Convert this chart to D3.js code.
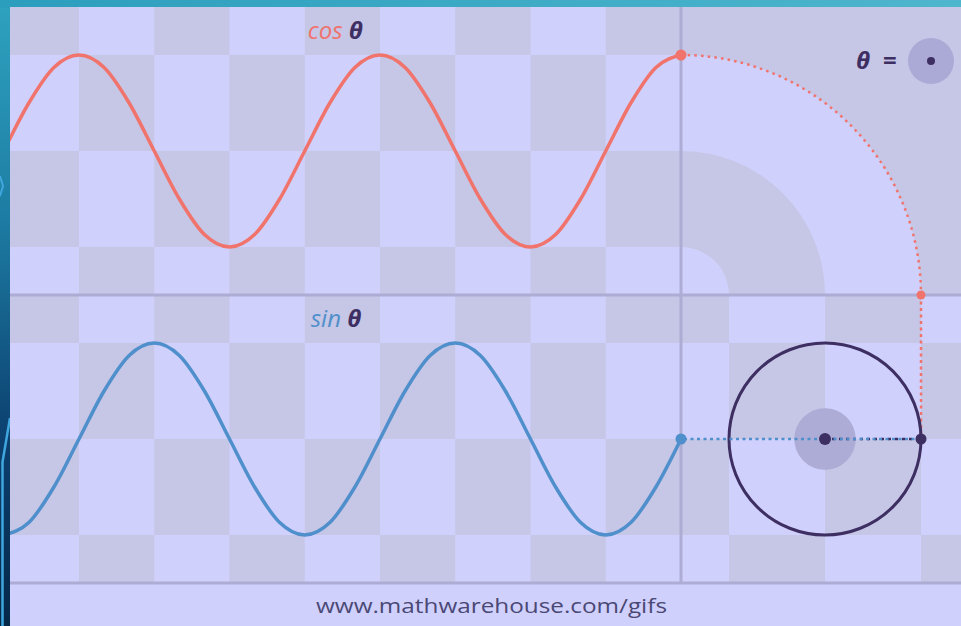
<!DOCTYPE html>
<html><head><meta charset="utf-8">
<script src="https://cdn.jsdelivr.net/npm/d3@7"></script>
<style>html,body{margin:0;padding:0;overflow:hidden;background:#1b6c93}svg{display:block}</style>
</head><body><svg id="c" width="961" height="626"></svg>
<script>
// ---- data (angle history in degrees, current angle = 0) ----
const thetaDeg = [-810,-780,-750,-720,-690,-660,-630,-600,-570,-540,-510,-480,-450,-420,-390,-360,-330,-300,-270,-240,-210,-180,-150,-120,-90,-60,-30,0];
const cosValues = [0,0.5,0.87,1,0.87,0.5,0,-0.5,-0.87,-1,-0.87,-0.5,0,0.5,0.87,1,0.87,0.5,0,-0.5,-0.87,-1,-0.87,-0.5,0,0.5,0.87,1];
const sinValues = [-1,-0.87,-0.5,0,0.5,0.87,1,0.87,0.5,0,-0.5,-0.87,-1,-0.87,-0.5,0,0.5,0.87,1,0.87,0.5,0,-0.5,-0.87,-1,-0.87,-0.5,0];
// background grid bands
const colTicks = [-810,-720,-630,-540,-450,-360,-270,-180,-90,0];
const rowVals = [1.5,1,0,-1,-1.5];
const circCols = [-1.5,-1,0,1,2];
const ringRadii = [2.5,1.5,0.5];
// texts
const cosLabel = "cos", sinLabel = "sin", thetaSym = "θ", eqSym = "=";
const footerText = "www.mathwarehouse.com/gifs";

// ---- styles ----
const LIGHT = "#d0d0fc", DARK = "#c6c6e6", AXIS = "#acacd4";
const RED = "#f0736c", BLUE = "#4f8fcb", INK = "#3e2f63";

const W = 961, H = 626;
const svg = d3.select("#c");
const defs = svg.append("defs");

// scales
const xScale = d3.scaleLinear().domain([-810, 0]).range([3.75, 681]);
const yCos = d3.scaleLinear().domain([-1.5, 1.5]).range([295, 7]);
const ySin = d3.scaleLinear().domain([-1.5, 1.5]).range([583, 295]);
const R = ySin(0) - ySin(1);
const xCirc = d3.scaleLinear().domain([-1.5, 0]).range([xScale(0), xScale(0) + 1.5 * R]);

// gradients for the slide border
const gL = defs.append("linearGradient").attr("id","gL").attr("x1",0).attr("y1",0).attr("x2",0).attr("y2",1);
[[0,"#2fa3c0"],[0.35,"#1d7ca3"],[0.7,"#0c4070"],[1,"#052848"]].forEach(s=>gL.append("stop").attr("offset",s[0]).attr("stop-color",s[1]));
const gT = defs.append("linearGradient").attr("id","gT").attr("x1",0).attr("y1",0).attr("x2",1).attr("y2",0);
[[0,"#2c9ebd"],[1,"#4eb6cd"]].forEach(s=>gT.append("stop").attr("offset",s[0]).attr("stop-color",s[1]));
svg.append("rect").attr("width",W).attr("height",H).attr("fill","url(#gL)");
svg.append("rect").attr("width",W).attr("height",8).attr("fill","url(#gT)");
svg.append("path").attr("d","M10,418 L2.5,462 L2.5,626").attr("fill","none").attr("stroke","#3fa6de").attr("stroke-width",2.5);
svg.append("path").attr("d","M0,176 L3,186 L0,196").attr("fill","none").attr("stroke","#3fa6de").attr("stroke-width",2);

// clip paths
defs.append("clipPath").attr("id","panel").append("rect").attr("x",10).attr("y",7).attr("width",W-10).attr("height",583-7);
defs.append("clipPath").attr("id","ur").append("rect").attr("x",xScale(0)).attr("y",7).attr("width",W-xScale(0)).attr("height",295-7);

// panel background
svg.append("rect").attr("x",10).attr("y",7).attr("width",W-10).attr("height",H-7).attr("fill",LIGHT);

// left checkerboards
const gChk = svg.append("g").attr("clip-path","url(#panel)");
[yCos, ySin].forEach(ys => {
  for (let r = 0; r < 4; r++) for (let c = 0; c < colTicks.length - 1; c++) {
    if ((r + c) % 2 !== 0) continue;
    gChk.append("rect")
      .attr("x", xScale(colTicks[c])).attr("width", xScale(colTicks[c+1]) - xScale(colTicks[c]))
      .attr("y", ys(rowVals[r])).attr("height", ys(rowVals[r+1]) - ys(rowVals[r]))
      .attr("fill", DARK);
  }
});
// lower right checkerboard (around the unit circle)
for (let r = 0; r < 4; r++) for (let k = 0; k < circCols.length - 1; k++) {
  if ((r + k) % 2 !== 0) continue;
  gChk.append("rect")
    .attr("x", xCirc(circCols[k])).attr("width", xCirc(circCols[k+1]) - xCirc(circCols[k]))
    .attr("y", ySin(rowVals[r])).attr("height", ySin(rowVals[r+1]) - ySin(rowVals[r]))
    .attr("fill", DARK);
}
// upper right polar rings
const gUR = svg.append("g").attr("clip-path","url(#ur)");
gUR.append("rect").attr("x",xScale(0)).attr("y",7).attr("width",W-xScale(0)).attr("height",295-7).attr("fill",DARK);
ringRadii.forEach((rr,i) => gUR.append("circle").attr("cx",xScale(0)).attr("cy",yCos(-1.5)).attr("r",rr*R).attr("fill", i%2===0 ? LIGHT : DARK));

// axis lines
svg.append("line").attr("x1",10).attr("x2",W).attr("y1",yCos(-1.5)).attr("y2",yCos(-1.5)).attr("stroke",AXIS).attr("stroke-width",3);
svg.append("line").attr("x1",10).attr("x2",W).attr("y1",ySin(-1.5)).attr("y2",ySin(-1.5)).attr("stroke",AXIS).attr("stroke-width",3);
svg.append("line").attr("x1",xScale(0)).attr("x2",xScale(0)).attr("y1",7).attr("y2",ySin(-1.5)).attr("stroke",AXIS).attr("stroke-width",3);

// curves
const cosData = thetaDeg.map((t,i)=>({t, v: cosValues[i]}));
const sinData = thetaDeg.map((t,i)=>({t, v: sinValues[i]}));
const gCurves = svg.append("g").attr("clip-path","url(#panel)");
gCurves.append("path").datum(cosData)
  .attr("d", d3.line().x(d=>xScale(d.t)).y(d=>yCos(d.v)).curve(d3.curveMonotoneX))
  .attr("fill","none").attr("stroke",RED).attr("stroke-width",3.5).attr("stroke-linecap","round");
gCurves.append("path").datum(sinData)
  .attr("d", d3.line().x(d=>xScale(d.t)).y(d=>ySin(d.v)).curve(d3.curveMonotoneX))
  .attr("fill","none").attr("stroke",BLUE).attr("stroke-width",3.5).attr("stroke-linecap","round");

// current state
const cosNow = cosValues[cosValues.length-1], sinNow = sinValues[sinValues.length-1];
const ax = xScale(0), ay = yCos(-1.5);
const arcR = ay - yCos(cosNow);
const px = xCirc(cosNow), py = ySin(sinNow);
const cx = xCirc(0), cy = ySin(0);

// dotted arc (cos transfer)
svg.append("path").attr("d", `M${ax},${ay-arcR} A${arcR},${arcR} 0 0 1 ${ax+arcR},${ay}`)
  .attr("fill","none").attr("stroke",RED).attr("stroke-width",2.5).attr("stroke-dasharray","2.5,4.2");
svg.append("line").attr("x1",ax+arcR).attr("y1",ay).attr("x2",px).attr("y2",py)
  .attr("stroke",RED).attr("stroke-width",2.5).attr("stroke-dasharray","3,3.5");

// unit circle
svg.append("circle").attr("cx",cx).attr("cy",cy).attr("r",R*0.32).attr("fill","#acacd6");
svg.append("circle").attr("cx",cx).attr("cy",cy).attr("r",R).attr("fill","none").attr("stroke",INK).attr("stroke-width",3);
svg.append("line").attr("x1",cx).attr("y1",cy).attr("x2",px).attr("y2",py)
  .attr("stroke",INK).attr("stroke-width",2.5).attr("stroke-dasharray","3,4");
// sin transfer
svg.append("line").attr("x1",ax).attr("y1",py).attr("x2",px).attr("y2",py)
  .attr("stroke",BLUE).attr("stroke-width",2.5).attr("stroke-dasharray","3,3.5").attr("stroke-dashoffset",3.5);

// dots
svg.append("circle").attr("cx",ax).attr("cy",yCos(cosNow)).attr("r",5.5).attr("fill",RED);
svg.append("circle").attr("cx",ax+arcR).attr("cy",ay).attr("r",4.5).attr("fill",RED);
svg.append("circle").attr("cx",ax).attr("cy",ySin(sinNow)).attr("r",5.5).attr("fill",BLUE);
svg.append("circle").attr("cx",cx).attr("cy",cy).attr("r",6).attr("fill",INK);
svg.append("circle").attr("cx",px).attr("cy",py).attr("r",5.5).attr("fill",INK);

// labels
const FONT = "'Open Sans', 'Noto Sans', sans-serif";
function label(x, y, word, color) {
  const t = svg.append("text").attr("x",x).attr("y",y).attr("font-family",FONT).attr("font-size",24);
  t.append("tspan").text(word).attr("font-style","italic").attr("fill",color);
  t.append("tspan").text(" " + thetaSym).attr("font-style","italic").attr("font-weight","bold").attr("fill",INK);
}
label(xScale(-450)+3, yCos(1.5)+32, cosLabel, RED);
label(xScale(-450)+6, ySin(1.5)+32, sinLabel, BLUE);

// theta indicator
svg.append("text").attr("x",856).attr("y",69).attr("font-family",FONT).attr("font-size",24)
  .attr("font-weight","bold").attr("font-style","italic").attr("fill",INK).text(thetaSym);
svg.append("text").attr("x",883).attr("y",69).attr("font-family",FONT).attr("font-size",24)
  .attr("font-weight","bold").attr("fill",INK).text(eqSym);
svg.append("circle").attr("cx",931).attr("cy",61).attr("r",23).attr("fill","#abaad6");
svg.append("circle").attr("cx",931).attr("cy",61).attr("r",4).attr("fill",INK);

// footer
svg.append("text").attr("x",491.5).attr("y",613).attr("text-anchor","middle")
  .attr("font-family",FONT).attr("font-size",20).attr("fill","#4a4874")
  .attr("textLength",351).attr("lengthAdjust","spacingAndGlyphs").text(footerText);
</script></body></html>
